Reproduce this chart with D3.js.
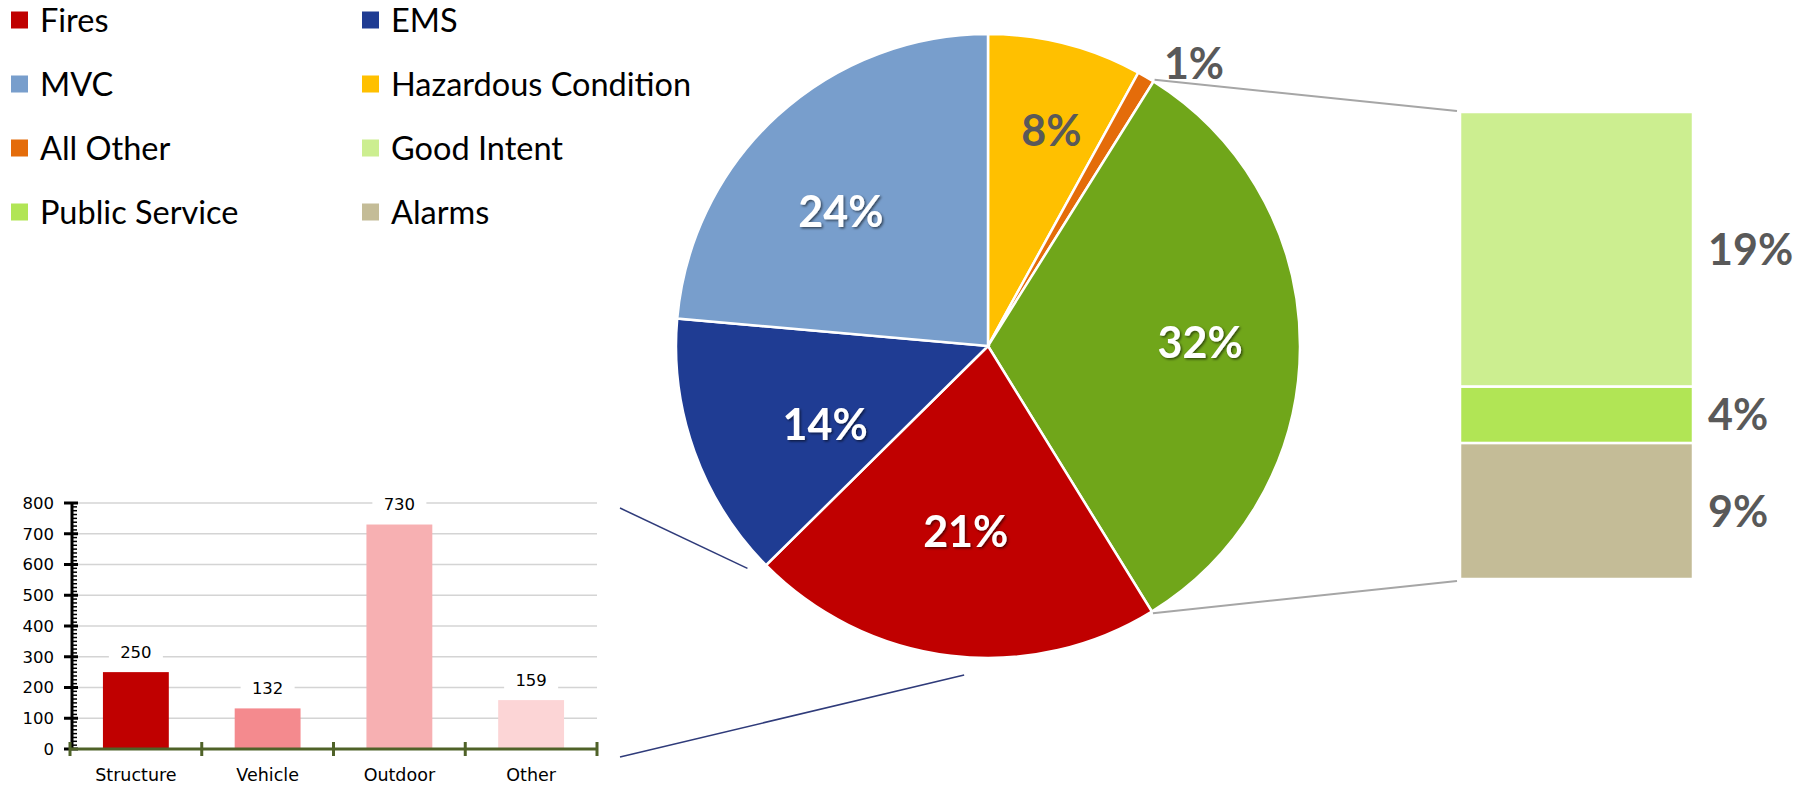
<!DOCTYPE html>
<html><head><meta charset="utf-8">
<script src="https://cdn.jsdelivr.net/npm/d3@7"></script>
<style>body{margin:0;background:#fff;} svg{display:block;}</style>
</head><body>
<svg id="c" width="1812" height="786"></svg>
<script>
// ---------- DATA ----------
const pieCategories = ["Hazardous Condition", "All Other", "Other Calls", "Fires", "EMS", "MVC"];
const pieValues = [8.0, 0.9, 32.3, 21.4, 13.8, 23.6];
const pieLabels = ["8%", "1%", "32%", "21%", "14%", "24%"];

const subCategories = ["Good Intent", "Public Service", "Alarms"];
const subValues = [19.0, 3.9, 9.4];
const subLabels = ["19%", "4%", "9%"];

const fireCategories = ["Structure", "Vehicle", "Outdoor", "Other"];
const fireValues = [250, 132, 730, 159];
const fireTicks = [0, 100, 200, 300, 400, 500, 600, 700, 800];

const legendItems = ["Fires", "EMS", "MVC", "Hazardous Condition", "All Other", "Good Intent", "Public Service", "Alarms"];

// ---------- STYLE ----------
const colors = {
  "Fires": "#C00000", "EMS": "#1F3C93", "MVC": "#789ECC", "Hazardous Condition": "#FFC000",
  "All Other": "#E46C0A", "Other Calls": "#70A61A", "Good Intent": "#CCEE90",
  "Public Service": "#B1E555", "Alarms": "#C4BC97"
};
const fireColors = ["#C00000", "#F48A8E", "#F7B0B2", "#FCD5D6"];
const grayText = "#595959";
const darkSlices = new Set(["Fires", "EMS", "MVC", "Other Calls"]);
// label placement (fraction of radius, angular shift in degrees) – mimics Excel "best fit"
const labelPlacement = {
  "MVC": [0.64, -5], "EMS": [0.58, -6], "Fires": [0.60, 0],
  "Other Calls": [0.68, -1], "Hazardous Condition": [0.72, 2]
};

const svg = d3.select("#c");
const defs = svg.append("defs");
const f = defs.append("filter").attr("id", "sh").attr("x", "-20%").attr("y", "-20%").attr("width", "140%").attr("height", "140%");
f.append("feDropShadow").attr("dx", 1.5).attr("dy", 1.5).attr("stdDeviation", 1.2).attr("flood-color", "#000").attr("flood-opacity", 0.55);

// ---------- LEGEND ----------
const legend = svg.append("g");
legendItems.forEach((name, i) => {
  const col = i % 2, row = Math.floor(i / 2);
  const x = 11 + col * 351, cy = 20 + row * 64;
  legend.append("rect").attr("x", x).attr("y", cy - 8.5).attr("width", 17).attr("height", 17).attr("fill", colors[name]);
  legend.append("text").attr("x", x + 29).attr("y", cy + 11.5)
    .attr("font-family", "Lato, 'Noto Sans', sans-serif").attr("font-size", 32.5).attr("fill", "#000").text(name);
});

// ---------- PIE ----------
const cx = 988, cy = 346, R = 312;
const pie = d3.pie().sort(null).value(d => d.v);
const pieData = pie(pieCategories.map((c, i) => ({ c, v: pieValues[i], l: pieLabels[i] })));
const arc = d3.arc().innerRadius(0).outerRadius(R);
const gPie = svg.append("g").attr("transform", `translate(${cx},${cy})`);
gPie.selectAll("path").data(pieData).join("path")
  .attr("d", arc).attr("fill", d => colors[d.data.c]).attr("stroke", "#fff").attr("stroke-width", 2.5);

const pt = (a, r) => [Math.sin(a) * r, -Math.cos(a) * r];
const rad = deg => deg * Math.PI / 180;

pieData.forEach(d => {
  const small = d.data.v < 3;
  let x, y, anchor = "middle";
  const mid = (d.startAngle + d.endAngle) / 2;
  if (small) {
    const p = pt(mid, R * 1.05);
    x = p[0] + 10; y = p[1]; anchor = "start";
  } else {
    const [fr, sh] = labelPlacement[d.data.c];
    [x, y] = pt(mid + rad(sh), R * fr);
  }
  const dark = darkSlices.has(d.data.c);
  gPie.append("text").attr("x", x).attr("y", y).attr("dy", "0.36em").attr("text-anchor", anchor)
    .attr("font-family", "Lato, sans-serif").attr("font-weight", "bold").attr("font-size", 43)
    .attr("fill", dark && !small ? "#fff" : grayText)
    .attr("filter", dark && !small ? "url(#sh)" : null)
    .text(d.data.l);
});

// ---------- BAR OF PIE ----------
const other = pieData[pieCategories.indexOf("Other Calls")];
const rectX = 1460, rectW = 233;
const sy = d3.scaleLinear().domain([0, d3.sum(subValues)]).range([112, 579]);
const gSub = svg.append("g");
let acc = 0;
subCategories.forEach((c, i) => {
  const y0 = sy(acc), y1 = sy(acc + subValues[i]);
  acc += subValues[i];
  gSub.append("rect").attr("x", rectX).attr("y", y0).attr("width", rectW).attr("height", y1 - y0)
    .attr("fill", colors[c]).attr("stroke", "#fff").attr("stroke-width", 2.5);
  gSub.append("text").attr("x", rectX + rectW + 15).attr("y", (y0 + y1) / 2).attr("dy", "0.36em")
    .attr("font-family", "Lato, sans-serif").attr("font-weight", "bold").attr("font-size", 43)
    .attr("fill", grayText).text(subLabels[i]);
});
const pA = pt(other.startAngle, R + 2), pB = pt(other.endAngle, R + 2);
svg.append("line").attr("x1", cx + pA[0]).attr("y1", cy + pA[1]).attr("x2", rectX - 3).attr("y2", sy(0) - 1)
  .attr("stroke", "#A6A6A6").attr("stroke-width", 2);
svg.append("line").attr("x1", cx + pB[0]).attr("y1", cy + pB[1]).attr("x2", rectX - 3).attr("y2", sy(d3.sum(subValues)) + 2)
  .attr("stroke", "#A6A6A6").attr("stroke-width", 2);

// ---------- FIRES BAR CHART ----------
const x = d3.scaleBand().domain(fireCategories).range([70, 597]).paddingInner(0.5).paddingOuter(0.25);
const y = d3.scaleLinear().domain([0, 800]).range([749, 503]);
const gBar = svg.append("g");
const tf = "'DejaVu Sans', Verdana, sans-serif";

// gridlines
fireTicks.filter(t => t > 0).forEach(t => {
  gBar.append("line").attr("x1", 72).attr("x2", 597).attr("y1", y(t)).attr("y2", y(t))
    .attr("stroke", "#D4D4D4").attr("stroke-width", 1.6);
});
// bars
gBar.selectAll("rect.bar").data(fireValues).join("rect").attr("class", "bar")
  .attr("x", (d, i) => x(fireCategories[i])).attr("width", x.bandwidth())
  .attr("y", d => y(d)).attr("height", d => y(0) - y(d))
  .attr("fill", (d, i) => fireColors[i]);
// data labels
fireValues.forEach((v, i) => {
  const xc = x(fireCategories[i]) + x.bandwidth() / 2, yc = y(v) - 20;
  gBar.append("rect").attr("x", xc - 27).attr("y", yc - 11).attr("width", 54).attr("height", 22).attr("fill", "#fff");
  gBar.append("text").attr("x", xc).attr("y", yc).attr("dy", "0.36em").attr("text-anchor", "middle")
    .attr("font-family", tf).attr("font-size", 16.5).attr("fill", "#000").text(v);
});
// y axis
gBar.append("line").attr("x1", 72).attr("x2", 72).attr("y1", y(0)).attr("y2", y(800)).attr("stroke", "#000").attr("stroke-width", 3);
d3.range(0, 800.01, 12.5).forEach(t => {
  gBar.append("line").attr("x1", 72).attr("x2", 77).attr("y1", y(t)).attr("y2", y(t)).attr("stroke", "#000").attr("stroke-width", 1.5);
});
fireTicks.forEach(t => {
  gBar.append("line").attr("x1", 64).attr("x2", 78).attr("y1", y(t)).attr("y2", y(t)).attr("stroke", "#000").attr("stroke-width", 3);
  gBar.append("text").attr("x", 54).attr("y", y(t)).attr("dy", "0.36em").attr("text-anchor", "end")
    .attr("font-family", tf).attr("font-size", 16.5).attr("fill", "#000").text(t);
});
// x axis
gBar.append("line").attr("x1", 70).attr("x2", 597).attr("y1", y(0)).attr("y2", y(0)).attr("stroke", "#4F6228").attr("stroke-width", 3);
d3.range(fireCategories.length + 1).forEach(i => {
  const xx = 70 + i * x.step();
  gBar.append("line").attr("x1", xx).attr("x2", xx).attr("y1", y(0) - 7).attr("y2", y(0) + 7).attr("stroke", "#4F6228").attr("stroke-width", 3);
});
fireCategories.forEach(c => {
  gBar.append("text").attr("x", x(c) + x.bandwidth() / 2).attr("y", 781).attr("text-anchor", "middle")
    .attr("font-family", tf).attr("font-size", 17.5).attr("fill", "#000").text(c);
});

// connectors from the fire chart to the Fires slice
const fires = pieData[pieCategories.indexOf("Fires")];
const c1 = pt(fires.endAngle + 0.033, R * 1.05), c2 = pt((fires.startAngle + fires.endAngle) / 2 - 0.047, R * 1.057);
svg.append("line").attr("x1", 620).attr("y1", y(800) + 5).attr("x2", cx + c1[0]).attr("y2", cy + c1[1])
  .attr("stroke", "#2F3B7A").attr("stroke-width", 1.5);
svg.append("line").attr("x1", 620).attr("y1", y(0) + 8).attr("x2", cx + c2[0]).attr("y2", cy + c2[1])
  .attr("stroke", "#2F3B7A").attr("stroke-width", 1.5);
</script>
</body></html>
